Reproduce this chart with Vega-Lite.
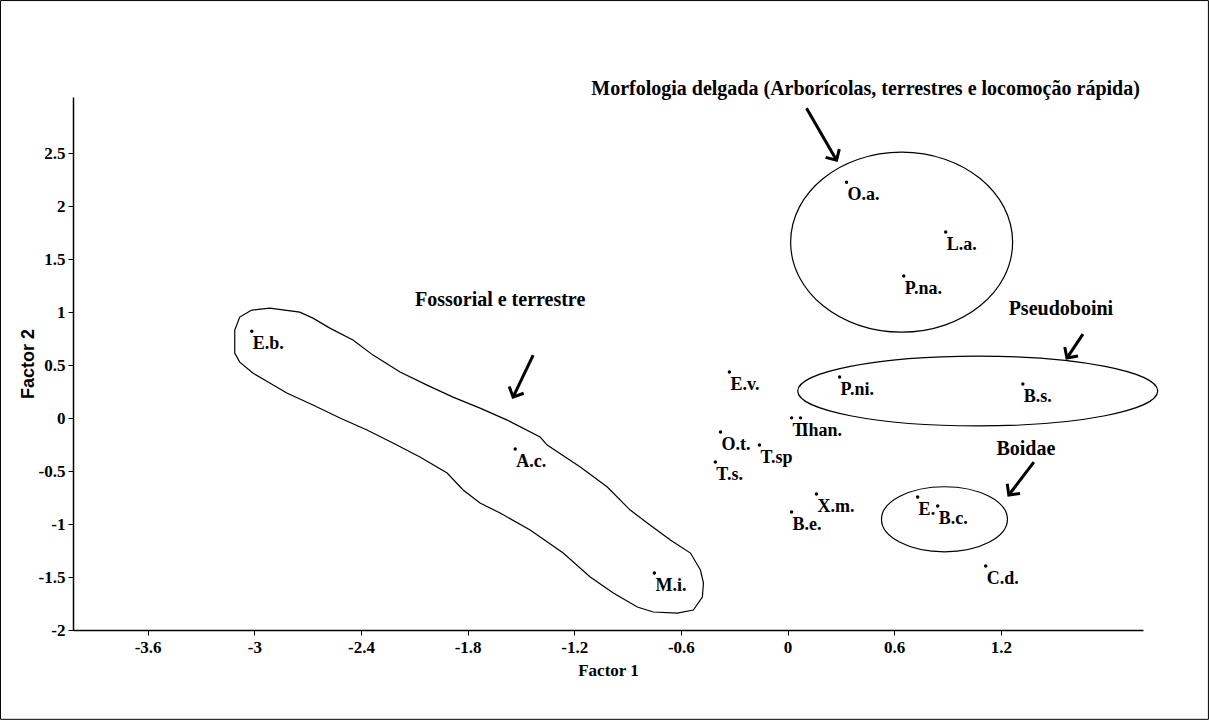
{
  "$schema": "https://vega.github.io/schema/vega-lite/v6.json",
  "autosize": "none",
  "width": 1070,
  "height": 533,
  "padding": {"left": 73, "top": 97, "right": 66, "bottom": 90},
  "background": "white",
  "config": {
    "font": "Liberation Serif",
    "view": {"stroke": null},
    "axis": {"grid": false, "domainColor": "black", "domainWidth": 1.5, "tickColor": "black", "tickWidth": 1, "tickSize": 5, "labelColor": "black", "titleColor": "black", "labelFont": "Liberation Serif", "labelFontWeight": "bold", "labelFontSize": 17, "titleFontWeight": "bold"}
  },
  "datasets": {
    "points": [
      {"sp": "O.a.", "f1": 0.332, "f2": 2.226},
      {"sp": "L.a.", "f1": 0.890, "f2": 1.755},
      {"sp": "P.na.", "f1": 0.654, "f2": 1.340},
      {"sp": "E.b.", "f1": -3.014, "f2": 0.820},
      {"sp": "A.c.", "f1": -1.532, "f2": -0.292},
      {"sp": "M.i.", "f1": -0.749, "f2": -1.462},
      {"sp": "E.v.", "f1": -0.327, "f2": 0.434},
      {"sp": "P.ni.", "f1": 0.293, "f2": 0.387},
      {"sp": "B.s.", "f1": 1.324, "f2": 0.321},
      {"sp": "T.", "f1": 0.023, "f2": 0.002},
      {"sp": "Ihan.", "f1": 0.073, "f2": 0.002},
      {"sp": "O.t.", "f1": -0.377, "f2": -0.132},
      {"sp": "T.sp", "f1": -0.158, "f2": -0.255},
      {"sp": "T.s.", "f1": -0.406, "f2": -0.415},
      {"sp": "X.m.", "f1": 0.163, "f2": -0.717},
      {"sp": "B.e.", "f1": 0.023, "f2": -0.887},
      {"sp": "E.", "f1": 0.732, "f2": -0.745},
      {"sp": "B.c.", "f1": 0.845, "f2": -0.830},
      {"sp": "C.d.", "f1": 1.115, "f2": -1.396}
    ],
    "loop": [
      {"i": 1, "f1": -3.014, "f2": 1.019},
      {"i": 2, "f1": -2.913, "f2": 1.038},
      {"i": 3, "f1": -2.744, "f2": 1.000},
      {"i": 4, "f1": -2.670, "f2": 0.943},
      {"i": 5, "f1": -2.575, "f2": 0.849},
      {"i": 6, "f1": -2.445, "f2": 0.736},
      {"i": 7, "f1": -2.332, "f2": 0.594},
      {"i": 8, "f1": -2.180, "f2": 0.434},
      {"i": 9, "f1": -2.028, "f2": 0.311},
      {"i": 10, "f1": -1.882, "f2": 0.198},
      {"i": 11, "f1": -1.730, "f2": 0.094},
      {"i": 12, "f1": -1.577, "f2": -0.019},
      {"i": 13, "f1": -1.392, "f2": -0.179},
      {"i": 14, "f1": -1.352, "f2": -0.255},
      {"i": 15, "f1": -1.166, "f2": -0.462},
      {"i": 16, "f1": -1.014, "f2": -0.651},
      {"i": 17, "f1": -0.885, "f2": -0.868},
      {"i": 18, "f1": -0.789, "f2": -0.991},
      {"i": 19, "f1": -0.659, "f2": -1.151},
      {"i": 20, "f1": -0.546, "f2": -1.274},
      {"i": 21, "f1": -0.490, "f2": -1.434},
      {"i": 22, "f1": -0.473, "f2": -1.557},
      {"i": 23, "f1": -0.479, "f2": -1.689},
      {"i": 24, "f1": -0.530, "f2": -1.811},
      {"i": 25, "f1": -0.620, "f2": -1.840},
      {"i": 26, "f1": -0.755, "f2": -1.830},
      {"i": 27, "f1": -0.845, "f2": -1.783},
      {"i": 28, "f1": -0.980, "f2": -1.651},
      {"i": 29, "f1": -1.110, "f2": -1.500},
      {"i": 30, "f1": -1.262, "f2": -1.274},
      {"i": 31, "f1": -1.448, "f2": -1.057},
      {"i": 32, "f1": -1.617, "f2": -0.896},
      {"i": 33, "f1": -1.730, "f2": -0.802},
      {"i": 34, "f1": -1.825, "f2": -0.679},
      {"i": 35, "f1": -1.915, "f2": -0.519},
      {"i": 36, "f1": -2.068, "f2": -0.368},
      {"i": 37, "f1": -2.220, "f2": -0.236},
      {"i": 38, "f1": -2.366, "f2": -0.113},
      {"i": 39, "f1": -2.518, "f2": 0.000},
      {"i": 40, "f1": -2.670, "f2": 0.123},
      {"i": 41, "f1": -2.817, "f2": 0.236},
      {"i": 42, "f1": -2.913, "f2": 0.330},
      {"i": 43, "f1": -3.008, "f2": 0.425},
      {"i": 44, "f1": -3.082, "f2": 0.528},
      {"i": 45, "f1": -3.110, "f2": 0.613},
      {"i": 46, "f1": -3.110, "f2": 0.830},
      {"i": 47, "f1": -3.082, "f2": 0.953},
      {"i": 48, "f1": -3.014, "f2": 1.019}
    ],
    "arrows": [
      {"a": "Morfologia", "f1": 0.107, "f2": 2.925, "f1tip": 0.276, "f2tip": 2.434, "heading": -31},
      {"a": "Fossorial", "f1": -1.431, "f2": 0.594, "f1tip": -1.544, "f2tip": 0.198, "heading": 25},
      {"a": "Pseudoboini", "f1": 1.662, "f2": 0.792, "f1tip": 1.572, "f2tip": 0.566, "heading": 34},
      {"a": "Boidae", "f1": 1.386, "f2": -0.415, "f1tip": 1.245, "f2tip": -0.726, "heading": 37}
    ],
    "notes": [
      {"t": "Morfologia delgada (Arborícolas, terrestres e locomoção rápida)", "f1": 0.439, "f2": 3.104},
      {"t": "Fossorial e terrestre", "f1": -1.617, "f2": 1.113},
      {"t": "Pseudoboini", "f1": 1.538, "f2": 1.028},
      {"t": "Boidae", "f1": 1.341, "f2": -0.292}
    ],
    "frame": [
      {"f1": -4.428, "f1b": 2.368, "f2": -2.843, "f2b": 3.940}
    ],
    "grpA": [{"g": "Morfologia delgada", "f1": 0.642, "f2": 1.66}],
    "grpB": [{"g": "Pseudoboini", "f1": 1.070, "f2": 0.255}],
    "grpC": [{"g": "Boidae", "f1": 0.883, "f2": -0.955}]
  },
  "encoding": {
    "x": {"field": "f1", "type": "quantitative", "scale": {"domain": [-4.02, 2.0], "nice": false, "zero": false},
      "axis": {"values": [-3.6, -3, -2.4, -1.8, -1.2, -0.6, 0, 0.6, 1.2], "labelExpr": "'' + datum.value", "title": "Factor 1", "titleFont": "Liberation Serif", "titleFontSize": 17, "labelPadding": 4, "titlePadding": 7}},
    "y": {"field": "f2", "type": "quantitative", "scale": {"domain": [-2, 3.03], "nice": false, "zero": false},
      "axis": {"values": [-2, -1.5, -1, -0.5, 0, 0.5, 1, 1.5, 2, 2.5], "labelExpr": "'' + datum.value", "title": "Factor 2", "titleFont": "Liberation Sans", "titleFontSize": 18, "labelPadding": 3, "titlePadding": 1}}
  },
  "layer": [
    {
      "data": {"name": "frame"},
      "mark": {"type": "rect", "fill": null, "stroke": "black", "strokeWidth": 1, "clip": false},
      "encoding": {
        "x2": {"field": "f1b"},
        "y2": {"field": "f2b"}
      }
    },
    {
      "data": {"name": "points"},
      "mark": {"type": "point", "filled": true, "color": "black", "size": 12, "opacity": 1, "shape": "circle"}
    },
    {
      "data": {"name": "points"},
      "mark": {"type": "text", "align": "left", "baseline": "top", "dx": 1, "dy": 4, "font": "Liberation Serif", "fontWeight": "bold", "fontSize": 18, "color": "black"},
      "encoding": {
        "text": {"field": "sp"}
      }
    },
    {
      "data": {"name": "loop"},
      "mark": {"type": "line", "color": "black", "strokeWidth": 1.2, "interpolate": "linear"},
      "encoding": {
        "order": {"field": "i", "type": "quantitative"}
      }
    },
    {
      "data": {"name": "grpA"},
      "mark": {"type": "point", "filled": false, "stroke": "black", "strokeWidth": 1.2, "opacity": 1, "size": 49284, "shape": "M -1 0 A 1 0.811 0 1 1 1 0 A 1 0.811 0 1 1 -1 0 Z"}
    },
    {
      "data": {"name": "grpB"},
      "mark": {"type": "point", "filled": false, "stroke": "black", "strokeWidth": 1.2, "opacity": 1, "size": 129600, "shape": "M -1 0 A 1 0.194 0 1 1 1 0 A 1 0.194 0 1 1 -1 0 Z"}
    },
    {
      "data": {"name": "grpC"},
      "mark": {"type": "point", "filled": false, "stroke": "black", "strokeWidth": 1.2, "opacity": 1, "size": 15876, "shape": "M -1 0 A 1 0.516 0 1 1 1 0 A 1 0.516 0 1 1 -1 0 Z"}
    },
    {
      "data": {"name": "arrows"},
      "mark": {"type": "rule", "color": "black", "strokeWidth": 3},
      "encoding": {
        "x2": {"field": "f1tip"},
        "y2": {"field": "f2tip"}
      }
    },
    {
      "data": {"name": "arrows"},
      "mark": {"type": "point", "filled": false, "stroke": "black", "strokeWidth": 3, "opacity": 1, "size": 256, "shape": "M -1 -1 L 0 0 L 1 -1", "strokeJoin": "miter"},
      "encoding": {
        "x": {"field": "f1tip", "type": "quantitative"},
        "y": {"field": "f2tip", "type": "quantitative"},
        "angle": {"field": "heading", "type": "quantitative", "scale": null}
      }
    },
    {
      "data": {"name": "notes"},
      "mark": {"type": "text", "align": "center", "baseline": "middle", "font": "Liberation Serif", "fontWeight": "bold", "fontSize": 20, "color": "black"},
      "encoding": {
        "text": {"field": "t"}
      }
    }
  ]
}
